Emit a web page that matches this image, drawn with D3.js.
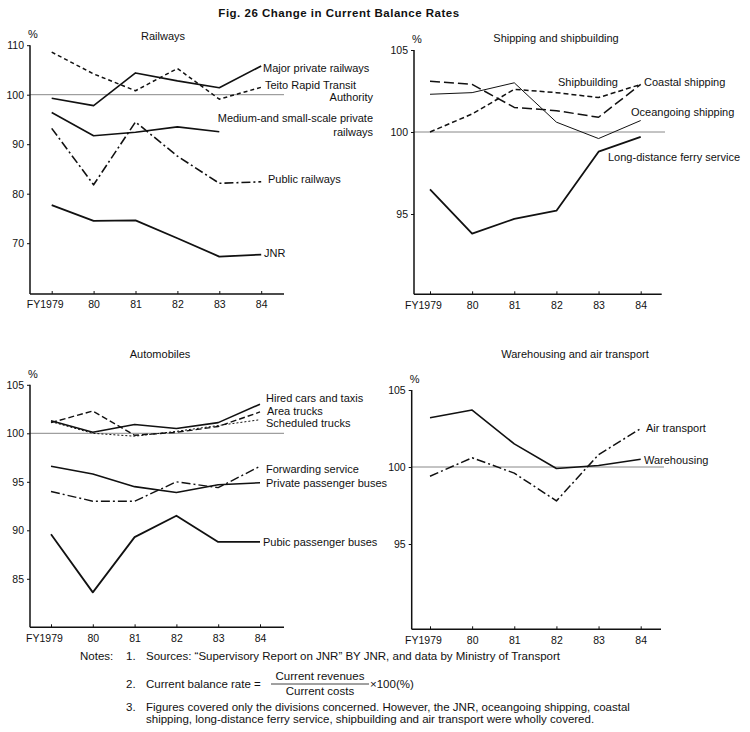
<!DOCTYPE html>
<html>
<head>
<meta charset="utf-8">
<script src="https://cdn.jsdelivr.net/npm/d3@7"></script>
<style>
body { margin: 0; background: #fff; }
svg { font-family: "Liberation Sans", Arial, sans-serif; font-size: 11px; fill: #111; }
.axis path.domain { display: none; }
.axis line { stroke: #111; stroke-width: 1; }
.axis text { fill: #111; font-size: 10.5px; }
.series { fill: none; stroke: #111; stroke-linejoin: round; }
.ref { stroke: #888; stroke-width: 1; }
.frame { stroke: #111; stroke-width: 1.5; }
</style>
</head>
<body>
<svg id="chart" width="750" height="732"></svg>
<script>
var years = [1979, 1980, 1981, 1982, 1983, 1984];
var yearLabels = ["FY1979", "80", "81", "82", "83", "84"];

// Railways
var majorPrivate = [99.3, 97.8, 104.4, 102.8, 101.4, 105.8];
var teito = [108.6, 104.2, 100.8, 105.3, 99.1, 101.5];
var mediumSmall = [96.4, 91.7, 92.4, 93.5, 92.5];
var publicRail = [93.2, 81.8, 94.5, 87.6, 82.1, 82.4];
var jnr = [77.7, 74.5, 74.6, 71.0, 67.3, 67.7];

// Shipping and shipbuilding
var shipbuilding = [102.3, 102.4, 103.0, 100.6, 99.6, 100.7];
var coastal = [100.0, 101.1, 102.6, 102.4, 102.1, 102.9];
var oceangoing = [103.1, 102.9, 101.5, 101.3, 100.9, 102.9];
var ferry = [96.5, 93.8, 94.7, 95.2, 98.8, 99.7];

// Automobiles
var hiredCars = [101.3, 100.1, 100.9, 100.5, 101.1, 103.0];
var areaTrucks = [101.1, 102.3, 99.8, 100.1, 100.7, 102.2];
var schedTrucks = [101.2, 100.0, 99.7, 100.2, 100.8, 101.4];
var forwarding = [94.0, 93.0, 93.0, 95.0, 94.4, 96.6];
var privateBus = [96.6, 95.8, 94.5, 93.9, 94.7, 94.9];
var pubicBus = [89.6, 83.6, 89.3, 91.5, 88.8, 88.8];

// Warehousing and air transport
var warehousing = [103.2, 103.7, 101.5, 99.9, 100.1, 100.5];
var airTransport = [99.4, 100.6, 99.6, 97.8, 100.8, 102.5];

var svg = d3.select("#chart");

svg.append("text")
    .attr("x", 339).attr("y", 17)
    .attr("text-anchor", "middle")
    .style("font-weight", "bold")
    .style("font-size", "11.5px")
    .style("letter-spacing", "0.5px")
    .text("Fig. 26  Change in Current Balance Rates");

function drawPanel(p) {
    var g = svg.append("g");
    var x = d3.scaleLinear().domain([1979, 1984]).range(p.xr);
    var y = d3.scaleLinear().domain(p.yd).range(p.yr);

    g.append("line").attr("class", "ref")
        .attr("x1", p.x0).attr("x2", p.refEnd)
        .attr("y1", y(100)).attr("y2", y(100));

    var xa = g.append("g").attr("class", "axis")
        .attr("transform", "translate(0," + p.base + ")")
        .call(d3.axisBottom(x).tickValues(years).tickSize(-3).tickPadding(7)
            .tickFormat(function (d, i) { return yearLabels[i]; }));
    xa.selectAll("text").filter(function (d, i) { return i == 0; }).attr("dx", -7);

    g.append("g").attr("class", "axis")
        .attr("transform", "translate(" + p.x0 + ",0)")
        .call(d3.axisLeft(y).tickValues(p.ticks).tickSize(3).tickPadding(3));

    g.append("line").attr("class", "frame")
        .attr("x1", p.x0).attr("x2", p.x0)
        .attr("y1", y(p.ticks[p.ticks.length - 1])).attr("y2", p.base);
    g.append("line").attr("class", "frame")
        .attr("x1", p.x0).attr("x2", p.xEnd)
        .attr("y1", p.base).attr("y2", p.base);

    g.append("text").attr("x", p.x0 + 3).attr("y", y(p.ticks[p.ticks.length - 1]) - 7)
        .attr("text-anchor", "middle").text("%");
    g.append("text").attr("x", p.titleX).attr("y", p.titleY)
        .attr("text-anchor", "middle").text(p.title);

    var line = d3.line()
        .x(function (d, i) { return x(years[i]); })
        .y(function (d) { return y(d); });

    p.series.forEach(function (s) {
        g.append("path").datum(s.values)
            .attr("class", "series")
            .attr("d", line)
            .style("stroke-width", s.w || 1.6)
            .style("stroke-dasharray", s.dash || null);
    });

    p.labels.forEach(function (l) {
        g.append("text").attr("x", l[0]).attr("y", l[1] + 3.8)
            .attr("text-anchor", l[3] || "start").text(l[2]);
    });
}

drawPanel({
    title: "Railways", titleX: 163, titleY: 40,
    x0: 30, base: 294, xEnd: 284, refEnd: 284, xr: [51.7, 261.2],
    yd: [70, 110], yr: [243.2, 45.2], ticks: [70, 80, 90, 100, 110],
    series: [
        {values: majorPrivate},
        {values: teito, dash: "4,3", w: 1.5},
        {values: mediumSmall},
        {values: publicRail, dash: "9,3,2,3"},
        {values: jnr, w: 1.8}
    ],
    labels: [
        [263, 68, "Major private railways"],
        [265, 85, "Teito Rapid Transit"],
        [373, 97.5, "Authority", "end"],
        [373, 118, "Medium-and small-scale private", "end"],
        [373, 132, "railways", "end"],
        [268, 179, "Public railways"],
        [264, 253, "JNR"]
    ]
});

drawPanel({
    title: "Shipping and shipbuilding", titleX: 556, titleY: 42,
    x0: 414, base: 294.3, xEnd: 661.7, refEnd: 665, xr: [430, 640.7],
    yd: [95, 105], yr: [214, 50], ticks: [95, 100, 105],
    series: [
        {values: shipbuilding, w: 1},
        {values: coastal, dash: "5,3", w: 1.5},
        {values: oceangoing, dash: "10,4", w: 1.5},
        {values: ferry, w: 1.8}
    ],
    labels: [
        [558, 82, "Shipbuilding"],
        [644, 82, "Coastal shipping"],
        [631, 112, "Oceangoing shipping"],
        [608, 157, "Long-distance ferry service"]
    ]
});

drawPanel({
    title: "Automobiles", titleX: 160, titleY: 358,
    x0: 30, base: 627.3, xEnd: 284, refEnd: 284, xr: [51, 260],
    yd: [85, 105], yr: [578.8, 384.8], ticks: [85, 90, 95, 100, 105],
    series: [
        {values: hiredCars},
        {values: areaTrucks, dash: "6,3", w: 1.4},
        {values: schedTrucks, dash: "2,2", w: 1},
        {values: forwarding, dash: "9,3,2,3", w: 1.4},
        {values: privateBus},
        {values: pubicBus, w: 1.8}
    ],
    labels: [
        [266, 398, "Hired cars and taxis"],
        [267, 411, "Area trucks"],
        [266, 423, "Scheduled trucks"],
        [266, 469, "Forwarding service"],
        [266, 483, "Private passenger buses"],
        [263, 542, "Pubic passenger buses"]
    ]
});

drawPanel({
    title: "Warehousing and air transport", titleX: 575, titleY: 358,
    x0: 411.7, base: 629.3, xEnd: 661, refEnd: 664, xr: [430, 640.7],
    yd: [95, 105], yr: [544, 390], ticks: [95, 100, 105],
    series: [
        {values: warehousing},
        {values: airTransport, dash: "9,3,2,3", w: 1.5}
    ],
    labels: [
        [646, 428, "Air transport"],
        [644, 460, "Warehousing"]
    ]
});

// notes
var notes = svg.append("g").style("font-size", "11.5px");
notes.append("text").attr("x", 80).attr("y", 660).text("Notes:");
notes.append("text").attr("x", 126).attr("y", 660).text("1.");
notes.append("text").attr("x", 146).attr("y", 660)
    .text("Sources: \u201cSupervisory Report on JNR\u201d BY JNR, and data by Ministry of Transport");
notes.append("text").attr("x", 126).attr("y", 688).text("2.");
notes.append("text").attr("x", 146).attr("y", 688).text("Current balance rate =");
notes.append("text").attr("x", 320).attr("y", 680).attr("text-anchor", "middle").text("Current revenues");
notes.append("line").attr("x1", 271).attr("x2", 369).attr("y1", 684).attr("y2", 684)
    .attr("stroke", "#111").attr("stroke-width", 0.8);
notes.append("text").attr("x", 320).attr("y", 695).attr("text-anchor", "middle").text("Current costs");
notes.append("text").attr("x", 370).attr("y", 688).text("\u00d7100(%)");
notes.append("text").attr("x", 126).attr("y", 711).text("3.");
notes.append("text").attr("x", 146).attr("y", 711)
    .text("Figures covered only the divisions concerned. However, the JNR, oceangoing shipping, coastal");
notes.append("text").attr("x", 146).attr("y", 723)
    .text("shipping, long-distance ferry service, shipbuilding and air transport were wholly covered.");
</script>
</body>
</html>
